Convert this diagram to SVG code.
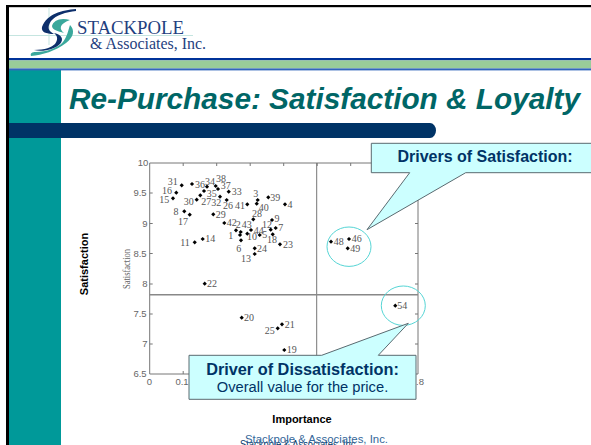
<svg xmlns="http://www.w3.org/2000/svg" xmlns:xlink="http://www.w3.org/1999/xlink" width="591" height="445" viewBox="0 0 591 445">
<style>
.l{font:10px "Liberation Serif",serif;fill:#555;text-anchor:middle}
.t{font:9.500px "Liberation Sans",sans-serif;fill:#666;text-anchor:middle}
.ax{stroke:#777;stroke-width:1;fill:none}
.c{fill:none;stroke:#55d5d5;stroke-width:1}
.co{fill:#ccffff;stroke:#5a6a70;stroke-width:1}
.b{font-family:"Liberation Sans",Arial,sans-serif;font-weight:bold}
</style>
<defs><path id="d" d="M0-2.100L2.100 0 0 2.100-2.100 0Z" fill="#000"/></defs>
<rect width="591" height="445" fill="#fff"/>
<g id="frame">
<rect x="6" y="5" width="585" height="2.200" fill="#000"/>
<rect x="6" y="5" width="3" height="440" fill="#000"/>
<rect x="9" y="70" width="52" height="375" fill="#009999"/>
<rect x="9" y="58" width="582" height="2.400" fill="#003399"/>
<rect x="9" y="60.400" width="582" height="8" fill="#99cc99"/>
<rect x="9" y="68.400" width="582" height="2" fill="#3366bb"/>
<path d="M9 123H430a6 7.500 0 0 1 6 7.500a6 7.500 0 0 1-6 7.500H9Z" fill="#003366"/>
</g>
<g id="logo">
<path d="M9 35.500H193M49 7V45" stroke="#c5e5e0" stroke-width="1" fill="none"/>
<path d="M70 20C60 17 53 21 52 26C52 30 58 31 64 33C59 29 59 24 70 20Z" fill="#3aa89c"/>
<path d="M70 25C75 30 74 37 66 43C56 51 42 55 31 56C30 53 32 52 36 52C46 52 58 48 63 42C67 37 68 31 70 25Z" fill="#3aa89c"/>
<path d="M76 9C62 10 47 14 42 27C41 32 46 34 54 34C48 31 47 27 51 21C56 15 66 12 76 11Z" fill="#0d2f6b"/>
<path d="M34 50C45 50 52 47 55 44C58 40 58 36 54 33C62 35 64 39 60 44C54 50 42 52 34 50Z" fill="#0d2f6b"/>
<text x="77" y="33.500" font-family="Liberation Serif,serif" font-size="19" fill="#1f3f80" textLength="107" lengthAdjust="spacingAndGlyphs">STACKPOLE</text>
<text x="90" y="49" font-family="Liberation Serif,serif" font-size="16" fill="#1f3f80" textLength="116" lengthAdjust="spacingAndGlyphs">&amp; Associates, Inc.</text>
</g>
<text id="title" x="69" y="109" font-family="Liberation Sans,Arial,sans-serif" font-weight="bold" font-style="italic" font-size="30" fill="#006666" textLength="511" lengthAdjust="spacingAndGlyphs">Re-Purchase: Satisfaction &amp; Loyalty</text>
<g id="chart">
<path class="ax" d="M149.700 163H418V374H149.700Z"/>
<path class="ax" d="M316.700 163V374" stroke="#555"/>
<path d="M149.700 294.700H418" stroke="#888" stroke-width="1.400" fill="none"/>
<path class="ax" d="M183.200 374v-3M216.700 374v-3M250.200 374v-3M283.700 374v-3M317.200 374v-3M350.700 374v-3M384.200 374v-3M183.200 163v3M216.700 163v3M250.200 163v3M283.700 163v3M317.200 163v3M350.700 163v3M384.200 163v3M149.700 193h3M149.700 223.500h3M149.700 253.500h3M149.700 284h3M149.700 314h3M149.700 344h3M418 193h-3M418 223.500h-3M418 253.500h-3M418 284h-3M418 314h-3M418 344h-3"/>
<g>
<text class="t" x="143" y="166">10</text><text class="t" x="140" y="196">9.5</text><text class="t" x="145" y="226.500">9</text><text class="t" x="140" y="257">8.5</text><text class="t" x="145" y="287">8</text><text class="t" x="140" y="317">7.5</text><text class="t" x="145" y="347">7</text><text class="t" x="140" y="377">6.5</text>
<text class="t" x="149.500" y="385">0</text><text class="t" x="182" y="385">0.1</text><text class="t" x="420" y="385">.8</text>
</g>
<text x="0" y="0" transform="translate(130,269) rotate(-90)" font-family="Liberation Serif,serif" font-size="9.500" fill="#666" text-anchor="middle" textLength="40" lengthAdjust="spacingAndGlyphs">Satisfaction</text>
<g id="points">
<use xlink:href="#d" x="181.700" y="185.300"/><use xlink:href="#d" x="192" y="184"/><use xlink:href="#d" x="207" y="186.700"/><use xlink:href="#d" x="215.700" y="186"/><use xlink:href="#d" x="218" y="189"/><use xlink:href="#d" x="228.700" y="191.700"/><use xlink:href="#d" x="176.300" y="192.700"/><use xlink:href="#d" x="173" y="198.300"/><use xlink:href="#d" x="204" y="191"/><use xlink:href="#d" x="200.300" y="195.300"/><use xlink:href="#d" x="196.700" y="199.700"/><use xlink:href="#d" x="220" y="196.700"/><use xlink:href="#d" x="226.700" y="200"/><use xlink:href="#d" x="257.700" y="200"/><use xlink:href="#d" x="268.300" y="197.300"/><use xlink:href="#d" x="256.700" y="203.700"/><use xlink:href="#d" x="247.300" y="204.300"/><use xlink:href="#d" x="285" y="204.300"/><use xlink:href="#d" x="184.300" y="211.300"/><use xlink:href="#d" x="189.700" y="214.700"/><use xlink:href="#d" x="213.300" y="214.300"/><use xlink:href="#d" x="253.300" y="219.300"/><use xlink:href="#d" x="272" y="220"/><use xlink:href="#d" x="224.300" y="223"/><use xlink:href="#d" x="240.700" y="232"/><use xlink:href="#d" x="251" y="230"/><use xlink:href="#d" x="270.700" y="229.700"/><use xlink:href="#d" x="275.700" y="228"/><use xlink:href="#d" x="236" y="230.300"/><use xlink:href="#d" x="240" y="235"/><use xlink:href="#d" x="247.300" y="233.700"/><use xlink:href="#d" x="259.700" y="235"/><use xlink:href="#d" x="272.700" y="234.300"/><use xlink:href="#d" x="241" y="240.300"/><use xlink:href="#d" x="254.700" y="248.300"/><use xlink:href="#d" x="254.700" y="254"/><use xlink:href="#d" x="280" y="244.300"/><use xlink:href="#d" x="194.700" y="242.300"/><use xlink:href="#d" x="202.700" y="239"/><use xlink:href="#d" x="204.700" y="283.700"/><use xlink:href="#d" x="331" y="241.700"/><use xlink:href="#d" x="349" y="239"/><use xlink:href="#d" x="347.700" y="248.300"/><use xlink:href="#d" x="395.300" y="305.700"/><use xlink:href="#d" x="241.700" y="317.700"/><use xlink:href="#d" x="282" y="324.300"/><use xlink:href="#d" x="277.700" y="328.300"/><use xlink:href="#d" x="284.300" y="350"/>
</g>
<g id="labels">
<text class="l" x="172.700" y="184.500">31</text><text class="l" x="200" y="187.500">36</text><text class="l" x="210" y="184.500">34</text><text class="l" x="221" y="182">38</text><text class="l" x="225.700" y="189">37</text><text class="l" x="236.700" y="194.500">33</text><text class="l" x="167" y="194">16</text><text class="l" x="164.300" y="203">15</text><text class="l" x="211.700" y="197">35</text><text class="l" x="206.300" y="204.500">27</text><text class="l" x="188.700" y="205">30</text><text class="l" x="216.300" y="205.500">32</text><text class="l" x="228" y="209">26</text><text class="l" x="255.700" y="196.500">3</text><text class="l" x="275.300" y="200.500">39</text><text class="l" x="263.700" y="210.500">40</text><text class="l" x="240" y="209">41</text><text class="l" x="290" y="207.500">4</text><text class="l" x="176" y="214.500">8</text><text class="l" x="183" y="225">17</text><text class="l" x="220.700" y="217.500">29</text><text class="l" x="257" y="217">28</text><text class="l" x="277" y="222">9</text><text class="l" x="231.700" y="226">42</text><text class="l" x="238.300" y="227.500">2</text><text class="l" x="246.700" y="227.500">43</text><text class="l" x="267" y="228">12</text><text class="l" x="280.700" y="231">7</text><text class="l" x="230.700" y="239">1</text><text class="l" x="258.700" y="233.500">44</text><text class="l" x="252" y="240">10</text><text class="l" x="264.700" y="238">5</text><text class="l" x="272" y="243">18</text><text class="l" x="238.700" y="252">6</text><text class="l" x="262" y="251.500">24</text><text class="l" x="246" y="262">13</text><text class="l" x="288" y="247.500">23</text><text class="l" x="185" y="246">11</text><text class="l" x="210.300" y="242">14</text><text class="l" x="212" y="287">22</text>
<text class="l" x="338.700" y="245">48</text><text class="l" x="356.700" y="242">46</text><text class="l" x="355.300" y="251.500">49</text><text class="l" x="402.300" y="309">54</text><text class="l" x="249" y="321">20</text><text class="l" x="289.700" y="327.500">21</text><text class="l" x="269.700" y="334">25</text><text class="l" x="291.700" y="353">19</text>
</g>
<ellipse class="c" cx="349" cy="246.700" rx="22" ry="19.700"/>
<ellipse class="c" cx="403.300" cy="305.700" rx="22" ry="19.700"/>
</g>
<text class="b" x="0" y="0" transform="translate(88,264) rotate(-90)" font-size="11" fill="#000" text-anchor="middle">Satisfaction</text>
<text class="b" x="302" y="422.500" font-size="11" fill="#000" text-anchor="middle">Importance</text>
<g id="callout-satisfaction">
<path class="co" d="M371.300 143.300H592V172.700H465.700L367 229.700L409.700 172.700H371.300Z"/>
<text class="b" x="485" y="162" font-size="16" fill="#003366" text-anchor="middle">Drivers of Satisfaction:</text>
</g>
<g id="callout-dissatisfaction">
<path class="co" d="M189 355.300H321.700L408.300 323.300L378.300 355.300H416V399.300H189Z"/>
<text class="b" x="302.500" y="374.500" font-size="16.300" fill="#003366" text-anchor="middle">Driver of Dissatisfaction:</text>
<text x="302.500" y="392" font-family="Liberation Sans,Arial,sans-serif" font-size="14.700" fill="#003366" text-anchor="middle">Overall value for the price.</text>
</g>
<g id="footer" font-family="Liberation Sans,Arial,sans-serif">
<text x="240" y="447.500" font-size="10" fill="#003366" textLength="118" lengthAdjust="spacingAndGlyphs">Stackpole &amp; Associates, Inc.</text>
<text x="245" y="442.500" font-size="11" fill="#336699" textLength="143" lengthAdjust="spacingAndGlyphs">Stackpole &amp; Associates, Inc.</text>
</g>
</svg>
